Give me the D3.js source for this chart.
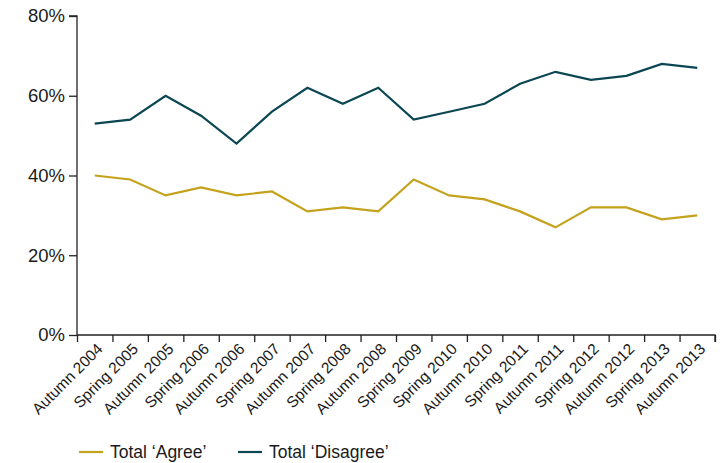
<!DOCTYPE html>
<html>
<head>
<meta charset="utf-8">
<script src="https://cdn.jsdelivr.net/npm/d3@7"></script>
<style>
  body { margin: 0; background: #fff; }
  text { font-family: "Liberation Sans", Arial, sans-serif; fill: #1a1a1a; }
</style>
</head>
<body>
<div id="content"></div>
<script>
// survey waves
var waves = ["Autumn 2004", "Spring 2005", "Autumn 2005", "Spring 2006", "Autumn 2006",
  "Spring 2007", "Autumn 2007", "Spring 2008", "Autumn 2008", "Spring 2009",
  "Spring 2010", "Autumn 2010", "Spring 2011", "Autumn 2011", "Spring 2012",
  "Autumn 2012", "Spring 2013", "Autumn 2013"];

var agree    = [40, 39, 35, 37, 35, 36, 31, 32, 31, 39, 35, 34, 31, 27, 32, 32, 29, 30];
var disagree = [53, 54, 60, 55, 48, 56, 62, 58, 62, 54, 56, 58, 63, 66, 64, 65, 68, 67];

var yTicks = [0, 20, 40, 60, 80];

var seriesNames = ["Total \u2018Agree\u2019", "Total \u2018Disagree\u2019"];
var seriesColors = ["#c4a21c", "#0b4653"];

var width = 720, height = 463;
var margin = {top: 16, right: 5, bottom: 128, left: 77};
var w = width - margin.left - margin.right;
var h = height - margin.top - margin.bottom;

var svg = d3.select("#content").append("svg")
    .attr("width", width)
    .attr("height", height)
  .append("g")
    .attr("transform", "translate(" + margin.left + "," + margin.top + ")");

var x = d3.scaleBand().domain(waves).range([0, w]);
var xEdge = d3.scaleLinear().domain([0, waves.length]).range([0, w]);
var y = d3.scaleLinear().domain([0, 80]).range([h, 0]);

// y axis
var yAxis = svg.append("g")
    .call(d3.axisLeft(y).tickValues(yTicks).tickSize(8).tickPadding(4)
      .tickFormat(function(d) { return d + "%"; }));
yAxis.selectAll("text").style("font-size", "18.5px");
yAxis.selectAll("line, path").attr("stroke", "#222").attr("stroke-width", 1.3);
yAxis.select(".domain").attr("d", "M0," + h + "V0H-8");

// x axis: ticks on band edges
var xTicks = svg.append("g")
    .attr("transform", "translate(0," + h + ")")
    .call(d3.axisBottom(xEdge).tickValues(d3.range(waves.length + 1)).tickSize(7).tickFormat(""));
xTicks.selectAll("line, path").attr("stroke", "#222").attr("stroke-width", 1.3);
xTicks.select(".domain").attr("d", "M0,0H" + w + "V7");

// x labels
var xLabels = svg.append("g")
    .attr("transform", "translate(0," + h + ")")
    .call(d3.axisBottom(x).tickSize(0).tickPadding(0));
xLabels.select(".domain").remove();
xLabels.selectAll("text")
    .style("font-size", "15.5px")
    .style("text-anchor", "end")
    .attr("dy", 0)
    .attr("transform", "translate(9,15) rotate(-45)");

// lines
var line = d3.line()
    .x(function(d, i) { return x(waves[i]) + x.bandwidth() / 2; })
    .y(function(d) { return y(d); });

[agree, disagree].forEach(function(s, i) {
  svg.append("path")
    .datum(s)
    .attr("fill", "none")
    .attr("stroke", seriesColors[i])
    .attr("stroke-width", 2.2)
    .attr("stroke-linejoin", "miter")
    .attr("d", line);
});

// legend
var legend = d3.select("svg").append("g")
    .attr("transform", "translate(79,452)");
var offsets = [0, 159];
seriesNames.forEach(function(n, i) {
  var g = legend.append("g").attr("transform", "translate(" + offsets[i] + ",0)");
  g.append("line").attr("x1", 0).attr("x2", 24).attr("y1", 0).attr("y2", 0)
    .attr("stroke", seriesColors[i]).attr("stroke-width", 2.2);
  g.append("text").attr("x", 31).attr("y", 6).style("font-size", "17.5px").text(n);
});
</script>
</body>
</html>
